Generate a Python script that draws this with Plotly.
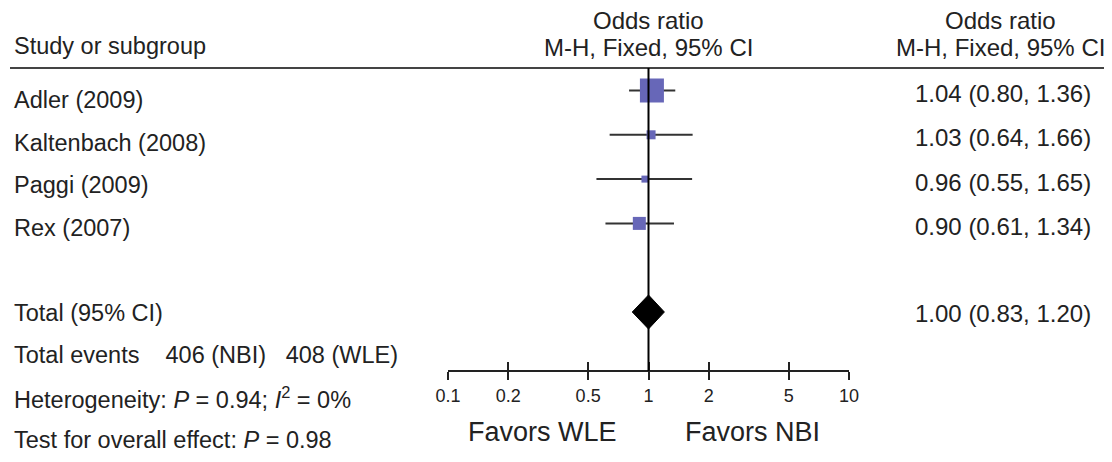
import plotly.graph_objects as go

# ---- data ----
studies = ["Adler (2009)", "Kaltenbach (2008)", "Paggi (2009)", "Rex (2007)"]
or_est = [1.04, 1.03, 0.96, 0.90]
ci_low = [0.80, 0.64, 0.55, 0.61]
ci_high = [1.36, 1.66, 1.65, 1.34]
box_size = [24, 9, 7, 13]          # relative study weight (visual)
total_label = "Total (95% CI)"
total_est, total_low, total_high = 1.00, 0.83, 1.20
tick_vals = [0.1, 0.2, 0.5, 1, 2, 5, 10]
tick_text = ["0.1", "0.2", "0.5", "1", "2", "5", "10"]
events_text = "Total events" + "\u00a0" * 4 + "406 (NBI)" + "\u00a0" * 3 + "408 (WLE)"
het_text = "Heterogeneity: <i>P</i> = 0.94; <i>I</i><sup>2</sup> = 0%"
overall_text = "Test for overall effect: <i>P</i> = 0.98"

# ---- layout constants (reference pixels) ----
REF_W, REF_H = 1112, 462
OFF = 8                       # page body margin
W, H = REF_W - OFF, REF_H - 2 * OFF
X0, X1 = 448, 849             # pixel span of the log axis 0.1..10
ROW0, ROWH = 90.5, 44.3       # forest rows
TXT0, TXTH = 100, 42.5        # left text rows
HEADER_Y = 68
AXIS_Y = 371
FONT = "Liberation Sans, Arial, Helvetica, sans-serif"
FS_L = 23.5
FS_R = 24

def px(x):
    return (x - OFF) / W

def row_y(i):
    return ROW0 + ROWH * i

def txt_y(i):
    return TXT0 + TXTH * i

ys = [row_y(i) for i in range(len(studies))]
ytot = row_y(5)

fig = go.Figure()

# CI whiskers
lx, ly = [], []
for lo, hi, y in zip(ci_low, ci_high, ys):
    lx += [lo, hi, None]
    ly += [y, y, None]
fig.add_trace(go.Scatter(x=lx, y=ly, mode="lines",
                         line=dict(color="#333333", width=2),
                         hoverinfo="skip", showlegend=False))

# study squares
fig.add_trace(go.Scatter(x=or_est, y=ys, mode="markers",
                         marker=dict(symbol="square", size=box_size, opacity=1,
                                     color="#6767B8", line=dict(width=0)),
                         showlegend=False))

# diamond for total
DH = 17
fig.add_trace(go.Scatter(x=[total_low, total_est, total_high, total_est, total_low],
                         y=[ytot, ytot - DH, ytot, ytot + DH, ytot],
                         mode="lines", fill="toself", fillcolor="black",
                         line=dict(color="black", width=1), showlegend=False))

shapes = [
    dict(type="line", xref="paper", yref="y", x0=px(10), x1=1, y0=HEADER_Y, y1=HEADER_Y,
         line=dict(color="#444444", width=2)),
    dict(type="line", xref="x", yref="y", x0=1, x1=1, y0=HEADER_Y, y1=AXIS_Y,
         line=dict(color="black", width=2)),
]

ann = []
def txt(text, xpx, ypx, anchor="left", size=FS_L):
    ann.append(dict(text=text, x=px(xpx), y=ypx, xref="paper", yref="y",
                    xanchor=anchor, yanchor="middle", showarrow=False,
                    font=dict(family=FONT, size=size, color="#222222")))

LX = 12
RX = 1093
# headers
txt("Study or subgroup", LX, 46)
txt("Odds ratio", 648, 20, "center", FS_R)
txt("M-H, Fixed, 95% CI", 648, 47, "center", FS_R)
txt("Odds ratio", 1000, 20, "center", FS_R)
txt("M-H, Fixed, 95% CI", 1000, 47, "center", FS_R)

# study rows
for i, (name, e, lo, hi, y) in enumerate(zip(studies, or_est, ci_low, ci_high, ys)):
    txt(name, LX, txt_y(i))
    txt(f"{e:.2f} ({lo:.2f}, {hi:.2f})", RX, y + 3, "right", FS_R)

txt(total_label, LX, txt_y(5))
txt(f"{total_est:.2f} ({total_low:.2f}, {total_high:.2f})", RX, ytot + 1, "right", FS_R)
txt(events_text, LX, txt_y(6))
txt(het_text, LX, txt_y(7))
txt(overall_text, LX, txt_y(8))

txt("Favors WLE", 542, 432, "center", 27)
txt("Favors NBI", 752, 432, "center", 27)

axis_pos = 1 - (AXIS_Y - OFF) / H
common_x = dict(type="log", range=[-1, 1], domain=[px(X0), px(X1)],
                anchor="free", position=axis_pos, showgrid=False, zeroline=False,
                showline=True, linecolor="#222222", linewidth=2,
                tickmode="array", tickvals=tick_vals, automargin=False,
                tickcolor="#222222", tickwidth=2, ticklen=8)

fig.update_layout(
    width=W, height=H, autosize=False,
    margin=dict(l=0, r=0, t=0, b=0, pad=0, autoexpand=False),
    paper_bgcolor="white", plot_bgcolor="white",
    xaxis=dict(**common_x, ticks="outside", ticktext=tick_text,
               tickfont=dict(family=FONT, size=18, color="#222222")),
    xaxis2=dict(**common_x, ticks="inside", overlaying="x", matches="x",
                showticklabels=False),
    yaxis=dict(range=[OFF + H, OFF], domain=[0, 1], visible=False, showgrid=False,
               automargin=False),
    shapes=shapes, annotations=ann, showlegend=False,
)
# invisible trace to activate xaxis2
fig.add_trace(go.Scatter(x=[1], y=[AXIS_Y], xaxis="x2", mode="markers",
                         marker=dict(opacity=0), hoverinfo="skip", showlegend=False))

fig.write_html("out.html")
